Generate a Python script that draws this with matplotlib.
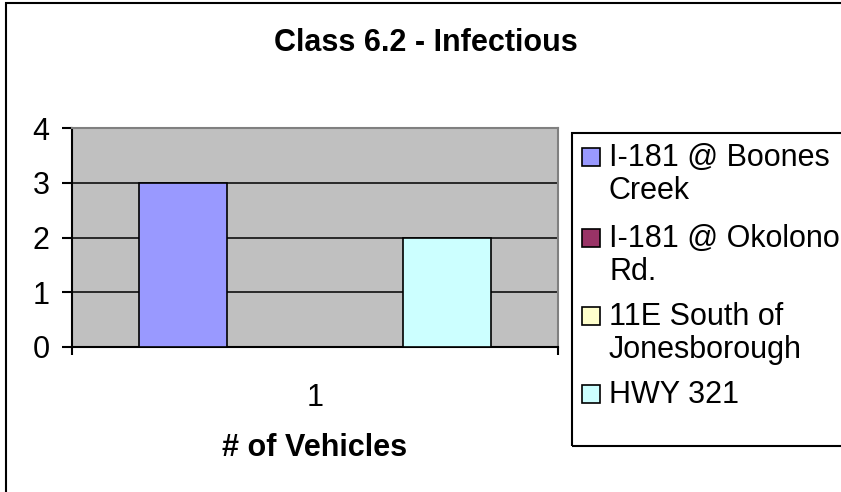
import matplotlib.pyplot as plt
from matplotlib.patches import Rectangle

# data
series = ["I-181 @ Boones Creek", "I-181 @ Okolono Rd.", "11E South of Jonesborough", "HWY 321"]
legend_labels = ["I-181 @ Boones\nCreek", "I-181 @ Okolono\nRd.", "11E South of\nJonesborough", "HWY 321"]
values = [3, 0, 0, 2]
colors = ["#9999FF", "#993366", "#FFFFCC", "#CCFFFF"]
category = "1"
yticks = [0, 1, 2, 3, 4]

W, H = 841, 492
FS = 22

fig = plt.figure(figsize=(W / 100, H / 100), dpi=100)
plt.rcParams['font.family'] = ["Liberation Sans", 'DejaVu Sans']


def px(x, y):
    # pixel position (from top-left) -> figure fraction
    return x / W, 1 - y / H


# outer chart border (runs off the right and bottom edges)
fig.patches.append(Rectangle(px(6, 560), 1.2, (560 - 3) / H, transform=fig.transFigure,
                             fill=False, ec="black", lw=1.5))

left, top, right, bottom = 72, 128, 558, 347
ax = fig.add_axes([left / W, 1 - bottom / H, (right - left) / W, (bottom - top) / H])
ax.set_facecolor("#C0C0C0")

n = len(values)
gap = 0.76
xs = [i - (n - 1) / 2 for i in range(n)]
for x, v, c in zip(xs, values, colors):
    if v > 0:
        ax.bar(x, v, width=1.0, color=c, edgecolor="black", lw=1.2, zorder=3)

half = n / 2 + gap
ax.set_xlim(-half, half)
ax.set_ylim(0, 4)
ax.set_yticks(yticks)
ax.yaxis.grid(True, color="black", lw=1.1, zorder=1)
ax.set_axisbelow(True)

for side in ["top", "right"]:
    ax.spines[side].set_color("#808080")
    ax.spines[side].set_linewidth(1.5)
for side in ["left", "bottom"]:
    ax.spines[side].set_color("black")
    ax.spines[side].set_linewidth(1.5)

ax.tick_params(axis="y", direction="out", length=7.2, width=1.5, pad=9, labelsize=FS)
ax.set_xticks([-half, half])
ax.set_xticklabels(["", ""])
ax.tick_params(axis="x", which="major", direction="out", length=6, width=1.5)
ax.set_xticks([0], minor=True)
ax.set_xticklabels([category], minor=True)
ax.tick_params(axis="x", which="minor", length=0, pad=26, labelsize=FS)

ax.set_xlabel("# of Vehicles", fontsize=FS, fontweight="bold", labelpad=14)

fig.text(*px(426, 43), "Class 6.2 - Infectious", ha="center", va="center",
         fontsize=FS, fontweight="bold")

# legend box
fig.patches.append(Rectangle(px(572, 446), 1.0, (446 - 133) / H, transform=fig.transFigure,
                             fill=False, ec="black", lw=1.5))
item_y = [155, 236, 314, 392]
line_step = 33
for lab, c, y in zip(legend_labels, colors, item_y):
    fig.patches.append(Rectangle(px(582, y + 11), 18 / W, 18 / H, transform=fig.transFigure,
                                 fc=c, ec="black", lw=1.2))
    for k, line in enumerate(lab.split("\n")):
        fig.text(*px(609, y + 11 + k * line_step), line, ha="left", va="baseline", fontsize=FS)

fig.savefig("out.png", dpi=100)
